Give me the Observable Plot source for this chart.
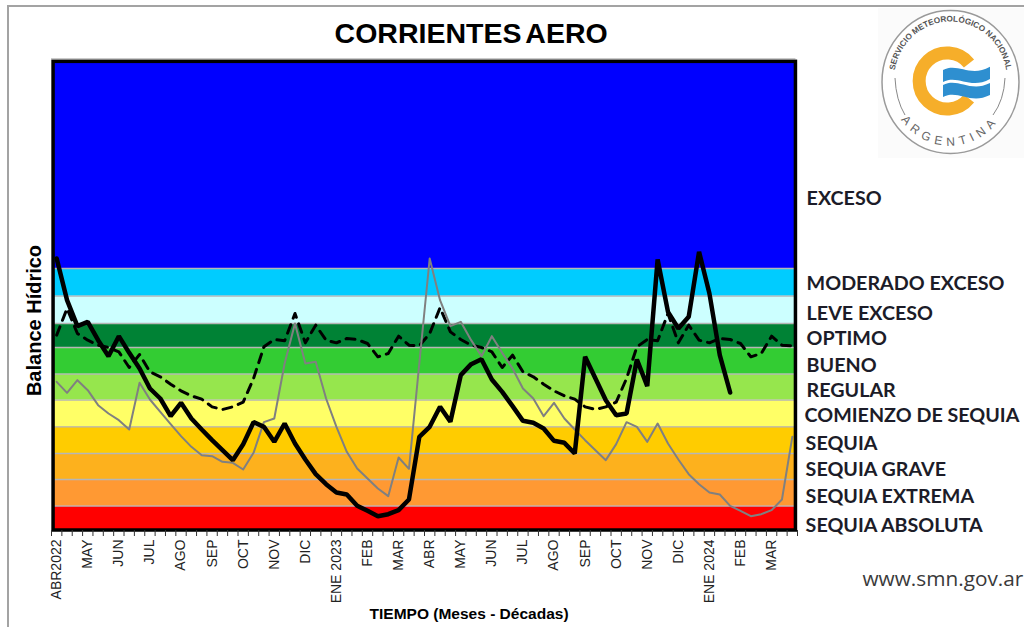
<!DOCTYPE html>
<html><head><meta charset="utf-8">
<script src="https://cdn.jsdelivr.net/npm/d3@7"></script>
<script src="https://cdn.jsdelivr.net/npm/@observablehq/plot@0.6"></script>
<style>
html,body{margin:0;padding:0;background:#fff;width:1024px;height:627px;overflow:hidden}
#chart{position:absolute;left:0;top:0}
#logo{position:absolute;left:878px;top:8px}
#edge{position:absolute;left:7px;top:5px;width:1017px;height:622px;border-left:2px solid #a3a3a3;border-top:2px solid #a3a3a3;box-sizing:border-box}
</style></head><body>
<div id="edge"></div>
<div id="chart"></div>
<svg id="logo" width="146" height="150" viewBox="0 0 146 150">
  <rect width="146" height="150" fill="#fbfbfb"/>
  <ellipse cx="72.5" cy="74" rx="68.5" ry="71.5" fill="#fff" stroke="#9a9a9a" stroke-width="1.5"/>
  <path id="arcTop" d="M 16 72 A 56 58 0 0 1 129 72" fill="none"/>
  <path id="arcBot" d="M 15 95 A 60 62 0 0 0 129 95" fill="none"/>
  <text font-family="Liberation Sans" font-weight="bold" font-size="8.2" fill="#555"><textPath href="#arcTop" startOffset="50%" text-anchor="middle">SERVICIO METEOROLÓGICO NACIONAL</textPath></text>
  <text font-family="Liberation Sans" font-size="12" letter-spacing="5" fill="#666"><textPath href="#arcBot" startOffset="50%" text-anchor="middle">ARGENTINA</textPath></text>
  <path d="M 17 70 Q 18 92 27 107 M 127 70 Q 126 92 115 107" fill="none" stroke="#888" stroke-width="1"/>
  <path d="M 91 55.5 A 28 28 0 1 0 91 90.5" fill="none" stroke="#f6ae2a" stroke-width="13"/>
  <path d="M 65 62 C 80 54 92 70 112 58.7 L 112 71 C 92 82 80 66 65 74 Z" fill="#2e8fd0"/>
  <path d="M 65 77 C 80 69 92 85 112 75 L 112 87 C 92 97 80 81 65 89 Z" fill="#2e8fd0"/>
</svg>
<script>
const monthLabels = ["ABR2022","MAY","JUN","JUL","AGO","SEP","OCT","NOV","DIC","ENE 2023","FEB","MAR","ABR","MAY","JUN","JUL","AGO","SEP","OCT","NOV","DIC","ENE 2024","FEB","MAR"];
const bandNames = ["SEQUIA ABSOLUTA","SEQUIA EXTREMA","SEQUIA GRAVE","SEQUIA","COMIENZO DE SEQUIA","REGULAR","BUENO","OPTIMO","LEVE EXCESO","MODERADO EXCESO","EXCESO"];
const bandColors = ["#ff0000","#ff9933","#fdb11d","#ffcc00","#ffff66","#96e64d","#33cc33","#008235","#ccffff","#00ccff","#0000ff"];
const bandEdges = [-6,67,147,225,305,385,463,543,615,697,780,1400];
const bandLabelLevels = [9,96,177,255,339,414,487,570,645,735,990];
const bandLabelX = [72.78,72.78,72.78,72.78,72.68,72.88,72.88,72.88,72.88,72.88,72.88];
const current = [810,685,607,620,565,517,577,527,480,420,390,337,377,330,297,265,235,205,253,319,305,260,315,255,207,163,133,108,102,68,53,37,43,55,87,275,305,365,320,460,493,508,447,410,367,323,317,300,263,257,225,515,450,385,340,345,507,427,807,650,600,635,830,705,520,408];
const previous = [440,407,445,415,370,345,325,297,437,387,350,313,277,245,220,217,200,197,177,227,319,330,495,615,495,500,390,305,230,180,150,120,97,213,179,495,810,685,607,620,565,517,577,527,480,420,390,337,377,330,297,265,235,205,253,319,305,260,315,255,207,163,133,108,102,68,53,37,43,55,87,275];
const normal = [580,660,585,565,550,543,530,483,522,470,455,433,413,398,388,365,357,365,379,450,545,567,563,645,557,610,565,557,570,567,555,515,525,577,550,548,585,662,590,567,550,543,530,483,520,470,455,433,413,398,388,365,357,365,379,450,545,567,563,645,557,610,565,557,570,567,555,515,525,577,550,548];

const pts = a => a.map((v,i)=>({x:i+0.5,y:v}));
const bands = bandNames.map((n,i)=>({name:n,fill:bandColors[i],y1:bandEdges[i],y2:bandEdges[i+1],ly:bandLabelLevels[i],lx:bandLabelX[i]}));
const tickLabel = new Map(monthLabels.map((m,i)=>[i*3+0.5,m]));

const plot = Plot.plot({
  width:1024,height:627,
  marginLeft:51,marginRight:227,marginTop:62,marginBottom:97,
  style:{background:"transparent",overflow:"visible"},
  x:{type:"linear",domain:[0,72],label:null},
  y:{type:"linear",domain:[-6,1398],label:null,axis:null},
  marks:[
    Plot.rect(bands,{x1:0.2,x2:71.85,y1:"y1",y2:"y2",fill:"fill"}),
    Plot.ruleY(bandEdges.slice(1,-1),{x1:0.2,x2:71.85,stroke:"#b6b6b6",strokeWidth:1.3}),
    Plot.ruleY([1409],{x1:0,x2:71.85,stroke:"#b0b0b0",strokeWidth:1}),
    Plot.line(pts(normal),{x:"x",y:"y",stroke:"#000",strokeWidth:3,strokeDasharray:"9 7",curve:"linear"}),
    Plot.line(pts(previous),{x:"x",y:"y",stroke:"#808080",strokeWidth:2,curve:"linear"}),
    Plot.line(pts(current),{x:"x",y:"y",stroke:"#000",strokeWidth:4.5,curve:"linear",strokeLinejoin:"miter"}),
    Plot.rect([0],{x1:0.2,x2:71.85,y1:-6,y2:1400,fill:"none",stroke:"#000",strokeWidth:3.5}),
    Plot.axisX({ticks:d3.range(0,73),tickSize:6,tickFormat:null,stroke:"#333",text:null}),
    Plot.axisX({ticks:[...tickLabel.keys()],tickSize:0,tickPadding:9,tickRotate:-90,tickFormat:d=>tickLabel.get(d),fontSize:14,fontFamily:"Liberation Sans",fill:"#222",textAnchor:"end",label:null}),
    Plot.text(["TIEMPO (Meses - Décadas)"],{x:[40.3],y:[-258],fontFamily:"Liberation Sans",fontWeight:"bold",fontSize:15.5,textAnchor:"middle",fill:"#000"}),
    Plot.text(["Balance Hídrico"],{x:[-1.64],y:[624],rotate:-90,fontFamily:"Liberation Sans",fontWeight:"bold",fontSize:20,fill:"#000"}),
    Plot.text(["CORRIENTES AERO"],{x:[40.5],y:[1485],className:"ttl",fontFamily:"Liberation Sans",fontWeight:"bold",fontSize:28.5,fill:"#000"}),
    Plot.text(bands,{x:"lx",y:"ly",text:"name",textAnchor:"start",fontFamily:"Lato",fontWeight:"bold",fontSize:19.7,fill:"#1c1c28"}),
    Plot.text(["www.smn.gov.ar"],{x:[93.8],y:[-153],fontFamily:"Open Sans",fontSize:20.8,fill:"#3a3a3a",textAnchor:"end"})
  ]
});
d3.select(plot).selectAll(".ttl text").style("word-spacing","-3px");
document.getElementById("chart").append(plot);
</script>
</body></html>
